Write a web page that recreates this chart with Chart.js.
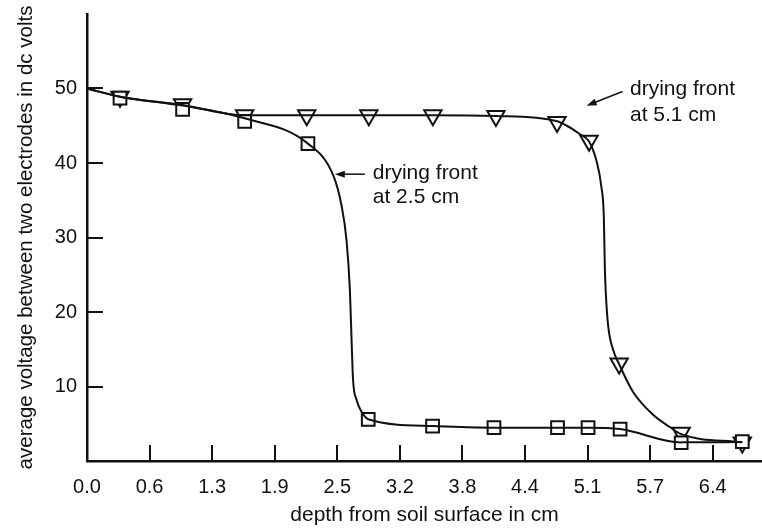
<!DOCTYPE html>
<html>
<head>
<meta charset="utf-8">
<script src="https://cdn.jsdelivr.net/npm/chart.js@4.4.1/dist/chart.umd.min.js"></script>
<style>
  html, body { margin: 0; padding: 0; background: #fff; }
  #chart { display: block; }
</style>
</head>
<body>
<canvas id="chart" width="762" height="528"></canvas>
<script>
// depth (cm) and voltage (V)
// curve traces (the drawn lines)
const squareCurveX = [0, 0.335, 0.97, 1.60, 2.242, 2.50, 2.583, 2.634, 2.668, 2.685, 2.70, 2.736, 2.787, 2.854, 3.507, 4.13, 4.775, 5.085, 5.41, 6.03, 6.65];
const squareCurveY = [50, 48.9, 47.7, 46.0, 42.6, 38.3, 34.3, 29.6, 22.9, 16.2, 10.9, 8.2, 6.6, 5.6, 4.69, 4.47, 4.47, 4.47, 4.29, 2.5, 2.55];
const triangleCurveX = [0, 0.335, 0.97, 1.60, 2.23, 2.86, 3.51, 4.15, 4.77, 4.87, 5.0, 5.095, 5.17, 5.22, 5.245, 5.255, 5.265, 5.29, 5.34, 5.40, 5.54, 5.745, 5.91, 6.03, 6.65];
const triangleCurveY = [50, 48.9, 47.8, 46.4, 46.4, 46.4, 46.4, 46.3, 45.6, 45.0, 43.9, 42.9, 40.3, 36.8, 32.7, 26.0, 22.5, 18.0, 14.9, 13.0, 9.3, 6.2, 4.6, 3.6, 2.5];

// measured points (markers)
const squareX = [0.335, 0.97, 1.60, 2.242, 2.854, 3.507, 4.13, 4.775, 5.085, 5.41, 6.03, 6.65];
const squareY = [48.7, 47.2, 45.6, 42.6, 5.6, 4.69, 4.47, 4.47, 4.47, 4.29, 2.45, 2.6];
const triangleX = [0.335, 0.97, 1.60, 2.23, 2.86, 3.51, 4.15, 4.77, 5.095, 5.40, 6.03, 6.65];
const triangleY = [48.9, 47.9, 46.4, 46.4, 46.4, 46.4, 46.3, 45.5, 43.0, 13.1, 3.8, 2.5];

// axis ticks (quarter-inch steps labelled in cm)
const xTickValues = [0, 0.635, 1.27, 1.905, 2.54, 3.175, 3.81, 4.445, 5.08, 5.715, 6.35];
const xTickLabels = ['0.0', '0.6', '1.3', '1.9', '2.5', '3.2', '3.8', '4.4', '5.1', '5.7', '6.4'];
const yTickValues = [10, 20, 30, 40, 50];
const yTickLabels = ['10', '20', '30', '40', '50'];

const xTitle = 'depth from soil surface in cm';
const yTitle = 'average voltage between two electrodes in dc volts';

const notes = [
    { lines: ['drying front', 'at 2.5 cm'], x: 2.90, y: [37.9, 34.6], arrowFrom: [2.82, 38.5], arrowTo: [2.515, 38.5] },
    { lines: ['drying front', 'at 5.1 cm'], x: 5.51, y: [49.1, 45.7], arrowFrom: [5.434, 49.6], arrowTo: [5.07, 47.7] }
];

const ink = '#111';
const fontFamily = '"Liberation Sans", Arial, Helvetica, sans-serif';

function toPoints(xs, ys) {
    return xs.map((x, i) => ({ x: x, y: ys[i] }));
}

// tick marks drawn inward, like the original figure
const inwardTicks = {
    id: 'inwardTicks',
    afterDraw(chart) {
        const ctx = chart.ctx;
        const xs = chart.scales.x;
        const ys = chart.scales.y;
        const area = chart.chartArea;
        ctx.save();
        ctx.strokeStyle = ink;
        ctx.lineWidth = 2;
        xTickValues.forEach(v => {
            if (v === 0) return;
            const px = Math.round(xs.getPixelForValue(v));
            ctx.beginPath();
            ctx.moveTo(px, area.bottom);
            ctx.lineTo(px, area.bottom - 16);
            ctx.stroke();
        });
        yTickValues.forEach(v => {
            const py = Math.round(ys.getPixelForValue(v));
            ctx.beginPath();
            ctx.moveTo(area.left, py);
            ctx.lineTo(area.left + 16, py);
            ctx.stroke();
        });
        ctx.restore();
    }
};

const notesPlugin = {
    id: 'notes',
    afterDraw(chart) {
        const ctx = chart.ctx;
        const xs = chart.scales.x;
        const ys = chart.scales.y;
        ctx.save();
        ctx.fillStyle = ink;
        ctx.strokeStyle = ink;
        ctx.font = '21px ' + fontFamily;
        ctx.textBaseline = 'alphabetic';
        ctx.textAlign = 'left';
        notes.forEach(n => {
            n.lines.forEach((t, i) => {
                ctx.fillText(t, xs.getPixelForValue(n.x), ys.getPixelForValue(n.y[i]));
            });
            const x1 = xs.getPixelForValue(n.arrowFrom[0]);
            const y1 = ys.getPixelForValue(n.arrowFrom[1]);
            const x2 = xs.getPixelForValue(n.arrowTo[0]);
            const y2 = ys.getPixelForValue(n.arrowTo[1]);
            const ang = Math.atan2(y2 - y1, x2 - x1);
            ctx.lineWidth = 1.5;
            ctx.beginPath();
            ctx.moveTo(x1, y1);
            ctx.lineTo(x2 - 6 * Math.cos(ang), y2 - 6 * Math.sin(ang));
            ctx.stroke();
            ctx.beginPath();
            ctx.moveTo(x2, y2);
            ctx.lineTo(x2 - 10 * Math.cos(ang) + 3.5 * Math.sin(ang), y2 - 10 * Math.sin(ang) - 3.5 * Math.cos(ang));
            ctx.lineTo(x2 - 10 * Math.cos(ang) - 3.5 * Math.sin(ang), y2 - 10 * Math.sin(ang) + 3.5 * Math.cos(ang));
            ctx.closePath();
            ctx.fill();
        });
        ctx.restore();
    }
};

document.addEventListener('DOMContentLoaded', () => {
    const canvas = document.getElementById('chart');
    const lineStyle = {
        showLine: true,
        pointRadius: 0,
        borderColor: ink,
        borderWidth: 2,
        cubicInterpolationMode: 'monotone',
        clip: false
    };
    const markerStyle = {
        showLine: false,
        backgroundColor: '#fff',
        borderColor: ink,
        pointBorderWidth: 2,
        clip: false
    };

    new Chart(canvas, {
        type: 'scatter',
        data: {
            datasets: [
                Object.assign({ label: 'front 2.5 cm', data: toPoints(squareCurveX, squareCurveY) }, lineStyle),
                Object.assign({ label: 'front 5.1 cm', data: toPoints(triangleCurveX, triangleCurveY) }, lineStyle),
                Object.assign({ label: 'squares', data: toPoints(squareX, squareY), pointStyle: 'rect', pointRadius: 9 }, markerStyle),
                Object.assign({ label: 'triangles', data: toPoints(triangleX, triangleY), pointStyle: 'triangle', pointRotation: 180, pointRadius: 10 }, markerStyle)
            ]
        },
        options: {
            responsive: false,
            animation: false,
            events: [],
            layout: { autoPadding: false, padding: { top: 14, right: 0, bottom: 0, left: 0 } },
            plugins: {
                legend: { display: false },
                tooltip: { enabled: false }
            },
            scales: {
                x: {
                    type: 'linear',
                    min: 0,
                    max: 6.85,
                    afterBuildTicks: s => { s.ticks = xTickValues.map(v => ({ value: v })); },
                    afterFit: s => { s.height = 67; s.paddingLeft = 0; s.paddingRight = 0; },
                    ticks: {
                        autoSkip: false,
                        maxRotation: 0,
                        padding: 14,
                        color: ink,
                        font: { family: fontFamily, size: 20 },
                        callback: (v, i) => xTickLabels[i]
                    },
                    grid: { display: false, drawTicks: false },
                    border: { display: true, color: ink, width: 2.5 },
                    title: {
                        display: true,
                        text: xTitle,
                        color: ink,
                        font: { family: fontFamily, size: 21 },
                        padding: { top: 0, bottom: 0 }
                    }
                },
                y: {
                    type: 'linear',
                    min: 0,
                    max: 60,
                    afterBuildTicks: s => { s.ticks = yTickValues.map(v => ({ value: v })); },
                    afterFit: s => { s.width = 87; s.paddingTop = 0; s.paddingBottom = 0; },
                    ticks: {
                        padding: 10,
                        color: ink,
                        font: { family: fontFamily, size: 20 },
                        callback: (v, i) => yTickLabels[i]
                    },
                    grid: { display: false, drawTicks: false },
                    border: { display: true, color: ink, width: 2.5 },
                    title: {
                        display: true,
                        text: yTitle,
                        color: ink,
                        font: { family: fontFamily, size: 20.5 },
                        padding: { top: 14, bottom: 0 }
                    }
                }
            }
        },
        plugins: [inwardTicks, notesPlugin]
    });
});
</script>
</body>
</html>
